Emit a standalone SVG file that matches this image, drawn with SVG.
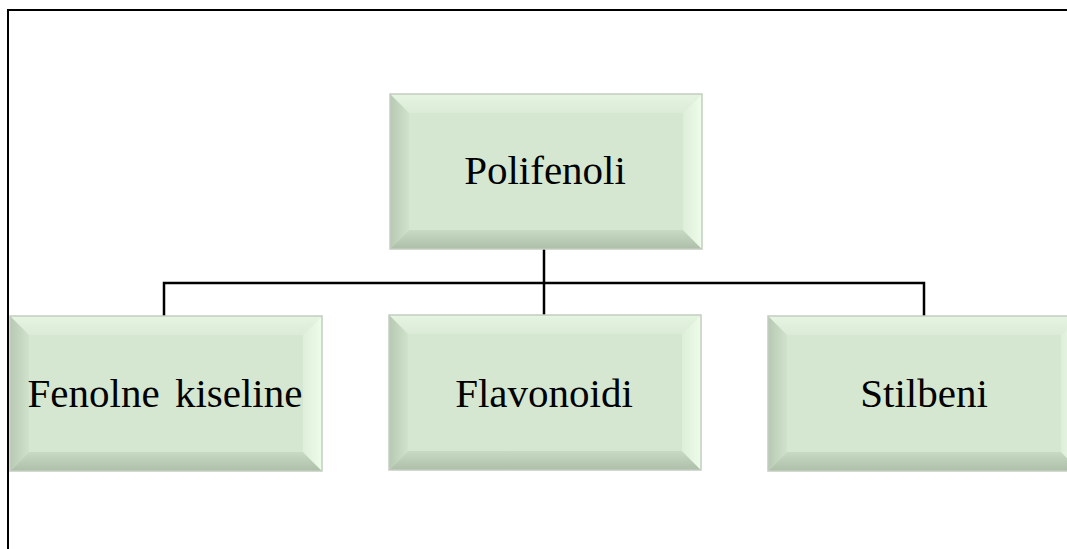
<svg xmlns="http://www.w3.org/2000/svg" width="1067" height="549" viewBox="0 0 1067 549">
<style>
.lbl{font-family:"Liberation Serif","Times New Roman",serif;font-size:41px;fill:#000;text-anchor:middle}
.face{fill:#d5e7d0}
.top{fill:url(#gTop)}
.left{fill:url(#gLeft)}
.bot{fill:url(#gBot)}
.right{fill:url(#gRight)}
.edge{fill:none;stroke:#c3cdc1;stroke-width:1.5}
.conn{fill:none;stroke:#000;stroke-width:2.5}
.frame{fill:none;stroke:#000;stroke-width:2}
</style>
<defs>
<linearGradient id="gTop" x1="0" y1="0" x2="0" y2="1"><stop offset="0" stop-color="#e6f4e2"/><stop offset="1" stop-color="#dbebd7"/></linearGradient>
<linearGradient id="gLeft" x1="0" y1="0" x2="1" y2="0"><stop offset="0" stop-color="#b7c8b3"/><stop offset="1" stop-color="#d0e1cc"/></linearGradient>
<linearGradient id="gBot" x1="0" y1="1" x2="0" y2="0"><stop offset="0" stop-color="#aebfa9"/><stop offset="1" stop-color="#c8dac3"/></linearGradient>
<linearGradient id="gRight" x1="1" y1="0" x2="0" y2="0"><stop offset="0" stop-color="#eefcea"/><stop offset="1" stop-color="#ddeed9"/></linearGradient>
<g id="bevel">
<rect x="0" y="0" width="312" height="155" class="face"/>
<polygon points="0,0 312,0 293,19 19,19" class="top"/>
<polygon points="0,0 19,19 19,136 0,155" class="left"/>
<polygon points="0,155 19,136 293,136 312,155" class="bot"/>
<polygon points="312,0 312,155 293,136 293,19" class="right"/>
<rect x="0" y="0" width="312" height="155" class="edge"/>
</g>
</defs>
<path class="frame" d="M8 549 V10 H1067"/>
<g id="connectors">
<path class="conn" d="M544 248 V316"/>
<path class="conn" d="M164 316 V283 H924 V316"/>
</g>
<g id="polifenoli">
<use href="#bevel" x="390" y="94"/>
<text class="lbl" x="545" y="184">Polifenoli</text>
</g>
<g id="fenolne">
<use href="#bevel" x="10" y="316"/>
<text class="lbl" x="165" y="407" word-spacing="5">Fenolne kiseline</text>
</g>
<g id="flavonoidi">
<use href="#bevel" x="389" y="315"/>
<text class="lbl" x="544" y="407">Flavonoidi</text>
</g>
<g id="stilbeni">
<use href="#bevel" x="768" y="316"/>
<text class="lbl" x="924" y="407">Stilbeni</text>
</g>
</svg>
